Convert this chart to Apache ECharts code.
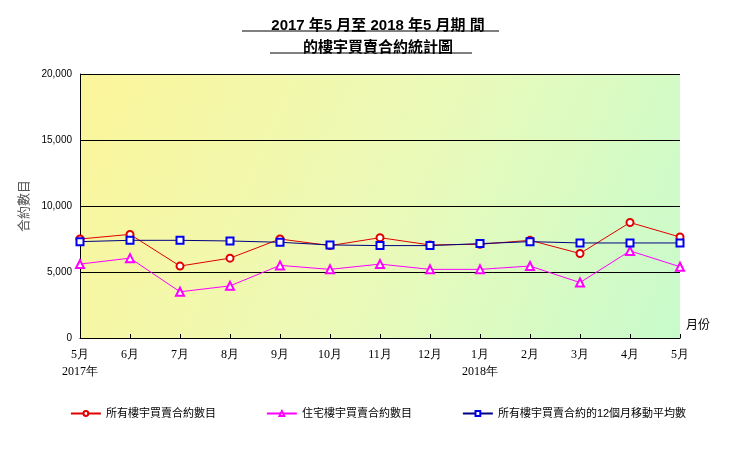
<!DOCTYPE html>
<html><head><meta charset="utf-8">
<script src="https://cdn.jsdelivr.net/npm/echarts@6/dist/echarts.min.js"></script>
<style>html,body{margin:0;background:#fff}#c{width:756px;height:454px}</style>
</head><body><div id="c"></div>
<script>
var months = ['5月\n2017年', '6月', '7月', '8月', '9月', '10月', '11月', '12月', '1月\n2018年', '2月', '3月', '4月', '5月'];
var allBuildings = [7500, 7850, 5450, 6050, 7500, 7000, 7600, 7050, 7100, 7400, 6400, 8750, 7650];
var residential = [5600, 6050, 3500, 3950, 5500, 5200, 5600, 5200, 5200, 5450, 4200, 6600, 5400];
var movingAvg = [7300, 7400, 7400, 7350, 7250, 7050, 7000, 7000, 7150, 7300, 7200, 7200, 7200];

var chart = echarts.init(document.getElementById('c'));
var font = '"Liberation Sans", "Noto Sans CJK TC", sans-serif';
var sym = {borderWidth: 1};
chart.setOption({
    animation: false,
    textStyle: {fontFamily: font},
    title: {
        text: '2017 年5 月至 2018 年5 月期 間\n的樓宇買賣合約統計圖',
        left: 'center', top: 10,
        textStyle: {fontSize: 15, fontWeight: 'bold', color: '#000', lineHeight: 22}
    },
    graphic: [
        {type: 'line', shape: {x1: 242, y1: 31, x2: 499, y2: 31}, style: {stroke: '#000', lineWidth: 1}},
        {type: 'line', shape: {x1: 270, y1: 53, x2: 472, y2: 53}, style: {stroke: '#000', lineWidth: 1}}
    ],
    grid: {left: 80, right: 76, top: 74, bottom: 116, show: true, borderWidth: 0,
        backgroundColor: new echarts.graphic.LinearGradient(0, 0, 1, 1, [
            {offset: 0, color: '#fbf59a'}, {offset: 0.5, color: '#ecfab8'}, {offset: 1, color: '#c8fbcc'}])},
    xAxis: {
        type: 'category', data: months, boundaryGap: false,
        name: '月份', nameLocation: 'end', nameGap: 6,
        nameTextStyle: {fontSize: 12, color: '#000', verticalAlign: 'top', padding: [-18, 0, 0, 0]},
        axisLine: {lineStyle: {color: '#000'}},
        axisTick: {inside: true, length: 4, lineStyle: {color: '#000'}},
        axisLabel: {color: '#000', fontSize: 12, fontFamily: 'Liberation Serif, serif', align: 'center', lineHeight: 17}
    },
    yAxis: {
        type: 'value', min: 0, max: 20000, interval: 5000,
        name: '合約數目', nameLocation: 'middle', nameGap: 44, nameRotate: 90,
        nameTextStyle: {fontSize: 13, color: '#555'},
        axisLine: {show: true, lineStyle: {color: '#000'}},
        axisTick: {show: true, inside: true, length: 4, lineStyle: {color: '#000'}},
        axisLabel: {color: '#000', fontSize: 10,
            formatter: function (v) { return v.toLocaleString('en-US'); }},
        splitLine: {lineStyle: {color: '#000'}}
    },
    legend: {
        bottom: 30, left: 'center', itemGap: 50, itemWidth: 30, itemHeight: 6,
        textStyle: {fontSize: 11, color: '#000'},
        data: ['所有樓宇買賣合約數目', '住宅樓宇買賣合約數目', '所有樓宇買賣合約的12個月移動平均數']
    },
    series: [
        {name: '所有樓宇買賣合約數目', type: 'line', data: allBuildings, symbol: 'emptyCircle', symbolSize: 7,
            itemStyle: Object.assign({color: '#e00000'}, sym), lineStyle: {width: 1, color: '#e00000'}, z: 4},
        {name: '住宅樓宇買賣合約數目', type: 'line', data: residential, symbol: 'emptyTriangle', symbolSize: 8,
            itemStyle: Object.assign({color: '#ff00ff'}, sym), lineStyle: {width: 1, color: '#ff00ff'}, z: 3},
        {name: '所有樓宇買賣合約的12個月移動平均數', type: 'line', data: movingAvg, symbol: 'emptyRect', symbolSize: 7,
            itemStyle: Object.assign({color: '#0000ee'}, sym), lineStyle: {width: 1, color: '#000080'}, z: 5}
    ]
});
</script></body></html>
